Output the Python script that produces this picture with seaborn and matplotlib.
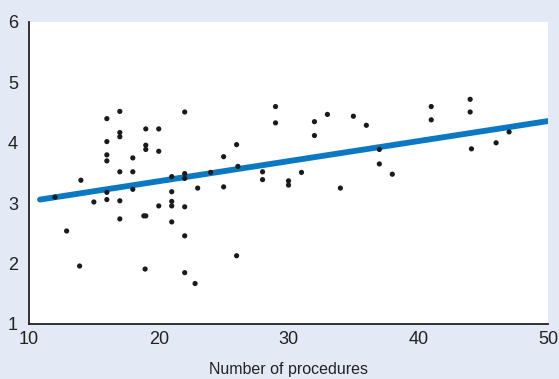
import matplotlib
matplotlib.use("Agg")
import matplotlib.pyplot as plt
import seaborn as sns
import pandas as pd

procedures = [14, 16, 17, 16, 17, 17, 19, 20, 19, 19, 20, 16, 16, 18, 17, 18,
              22, 21, 22, 22, 24, 25, 26, 26.1, 28, 28, 29, 29, 23, 25, 18, 21, 16,
              32, 32, 33, 35, 36, 37, 37, 38, 41, 41, 44, 44, 44.1, 46, 47, 31, 30, 30, 34,
              12, 15, 16, 17, 17, 18.85, 19, 20, 21, 21, 22, 21, 12.9, 22, 26, 13.9, 18.95, 22, 22.8]
score = [3.38, 4.40, 4.52, 4.02, 4.17, 4.10, 4.23, 4.23, 3.96, 3.89, 3.86, 3.80, 3.70, 3.75, 3.52, 3.52,
         4.51, 3.44, 3.49, 3.41, 3.51, 3.77, 3.97, 3.61, 3.52, 3.39, 4.60, 4.33, 3.25, 3.27, 3.23, 3.19, 3.18,
         4.35, 4.12, 4.47, 4.44, 4.29, 3.89, 3.65, 3.48, 4.60, 4.38, 4.72, 4.51, 3.90, 4.00, 4.18, 3.51, 3.37, 3.30, 3.25,
         3.10, 3.02, 3.06, 3.04, 2.74, 2.79, 2.79, 2.955, 3.03, 2.955, 2.94, 2.69, 2.54, 2.46, 2.13, 1.96, 1.91, 1.85, 1.67]

fit_x = [10.85, 50]
fit_y = [3.06, 4.36]

x_ticks = [10, 20, 30, 40, 50]
y_ticks = [1, 2, 3, 4, 5, 6]
x_label = "Number of procedures"

sns.set_theme(style="white")
plt.rcParams["font.family"] = ["Liberation Sans", "DejaVu Sans"]

bg = "#e3eaf6"
fig = plt.figure(figsize=(5.59, 3.79), dpi=100, facecolor=bg)
ax = fig.add_axes([29/559, 1 - 324/379, (548 - 29)/559, (324 - 22)/379])
ax.set_facecolor("white")

df = pd.DataFrame({"x": procedures, "y": score})
sns.lineplot(x=fit_x, y=fit_y, ax=ax, color="#0a78c2", linewidth=4.2, zorder=2)
sns.scatterplot(data=df, x="x", y="y", ax=ax, color="#1a1a1a", s=14, edgecolor="none", zorder=3)

ax.set_xlim(10, 50)
ax.set_ylim(1, 6)
ax.set_xticks(x_ticks)
ax.set_yticks(y_ticks)
ax.tick_params(axis="both", length=0, labelsize=13, colors="#222222")
ax.tick_params(axis="x", pad=5)
ax.tick_params(axis="y", pad=8)
ax.set_xlabel(x_label, fontsize=11.5, color="#222222", labelpad=10)
ax.set_ylabel("")

for s in ["top", "right"]:
    ax.spines[s].set_visible(False)
for s in ["left", "bottom"]:
    ax.spines[s].set_color("#222222")
    ax.spines[s].set_linewidth(1.3)

fig.savefig("out.png", dpi=100, facecolor=bg)
